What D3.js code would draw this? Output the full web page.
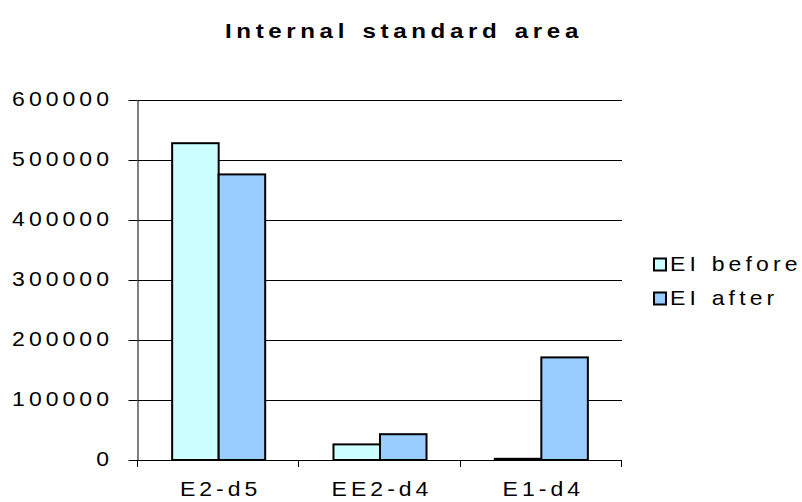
<!DOCTYPE html>
<html>
<head>
<meta charset="utf-8">
<script src="https://cdn.jsdelivr.net/npm/d3@7"></script>
<style>
  html, body { margin: 0; padding: 0; background: #fff; }
  svg { display: block; font-family: "Liberation Sans", Arial, sans-serif; }
</style>
</head>
<body>
<svg id="chart" width="802" height="502"></svg>
<script>
// Chart data
const categories = ["E2-d5", "EE2-d4", "E1-d4"];
const seriesNames = ["EI before", "EI after"];
const beforeValues = [528000, 26000, 2000];
const afterValues = [476000, 43000, 171000];
const yTicks = [0, 100000, 200000, 300000, 400000, 500000, 600000];
const titleText = "Internal standard area";

const seriesValues = [beforeValues, afterValues];
const seriesColors = ["#CCFFFF", "#99CCFF"];

// Text is drawn slightly widened horizontally
const SX = 1.15;
const FONT = "'Liberation Sans', Arial, sans-serif";

const svg = d3.select("#chart");

const plot = { left: 138, right: 622, top: 100, bottom: 460 };

const y = d3.scaleLinear().domain([0, 600000]).range([plot.bottom, plot.top]);
const x = d3.scaleBand().domain(categories).range([plot.left, plot.right]).padding(0);
const xs = d3.scaleBand().domain(seriesNames).range([0, x.bandwidth()])
  .paddingInner(0).paddingOuter(0.734);

function wideText(sel, px, py, anchor, size, ls, weight, ws) {
  return sel.append("text")
    .attr("transform", `translate(${px},${py}) scale(${SX},1)`)
    .attr("text-anchor", anchor)
    .style("font-family", FONT)
    .style("font-size", size + "px")
    .style("font-weight", weight || "normal")
    .style("letter-spacing", ls + "px")
    .style("word-spacing", (ws || 0) + "px")
    .attr("fill", "#000");
}

// Title
wideText(svg, 225, 38, "start", 21, 4, "bold", 2).text(titleText);

// Horizontal gridlines
svg.append("g")
  .selectAll("line")
  .data(yTicks.filter(d => d > 0))
  .join("line")
  .attr("x1", plot.left)
  .attr("x2", plot.right)
  .attr("y1", d => Math.round(y(d)) + 0.5)
  .attr("y2", d => Math.round(y(d)) + 0.5)
  .attr("stroke", "#000")
  .attr("stroke-width", 1);

// Bars
const rows = categories.map((c, i) => ({ cat: c, vals: seriesNames.map((s, j) => ({ s, j, v: seriesValues[j][i] })) }));
svg.append("g")
  .selectAll("g")
  .data(rows)
  .join("g")
  .attr("transform", d => `translate(${x(d.cat)},0)`)
  .selectAll("rect")
  .data(d => d.vals)
  .join("rect")
  .attr("x", d => xs(d.s))
  .attr("y", d => y(d.v))
  .attr("width", xs.bandwidth())
  .attr("height", d => y(0) - y(d.v))
  .attr("fill", d => seriesColors[d.j])
  .attr("stroke", "#000")
  .attr("stroke-width", 2);

// Y axis (line and tick marks), labels drawn widened
const labelLs = 3.5;
const yAxis = d3.axisLeft(y).tickValues(yTicks).tickSizeInner(9).tickSizeOuter(0).tickFormat(() => "");
const gy = svg.append("g")
  .attr("transform", `translate(${plot.left - 0.5},0)`)
  .call(yAxis);
gy.select(".domain").attr("stroke", "#000");
gy.selectAll(".tick line").attr("stroke", "#000");
gy.selectAll(".tick").attr("transform", d => `translate(0,${Math.round(y(d)) + 0.5})`);
const fmt = d3.format("d");
yTicks.forEach(t => {
  wideText(svg, 113, Math.round(y(t)) + 6, "end", 20, labelLs).text(fmt(t));
});

// X axis line and category boundary ticks
const gx = svg.append("g");
gx.append("line")
  .attr("x1", plot.left - 9).attr("x2", plot.right)
  .attr("y1", plot.bottom + 0.5).attr("y2", plot.bottom + 0.5)
  .attr("stroke", "#000");
const edges = categories.map(c => x(c)).concat([x(categories[categories.length - 1]) + x.step()]);
gx.selectAll("line.edge")
  .data(edges)
  .join("line")
  .attr("class", "edge")
  .attr("x1", d => Math.round(d) - 0.5).attr("x2", d => Math.round(d) - 0.5)
  .attr("y1", plot.bottom).attr("y2", plot.bottom + 7)
  .attr("stroke", "#000");
categories.forEach(c => {
  wideText(gx, x(c) + x.bandwidth() / 2 + labelLs * SX / 2, 496, "middle", 20, labelLs).text(c);
});

// Legend
const legend = svg.append("g");
seriesNames.forEach((name, i) => {
  const ly = 258.5 + i * 34;
  legend.append("rect")
    .attr("x", 654).attr("y", ly)
    .attr("width", 12).attr("height", 12)
    .attr("fill", seriesColors[i])
    .attr("stroke", "#000").attr("stroke-width", 2);
  wideText(legend, 670, ly + 12.5, "start", 20, 3.6, "normal", 1).text(name);
});
</script>
</body>
</html>
